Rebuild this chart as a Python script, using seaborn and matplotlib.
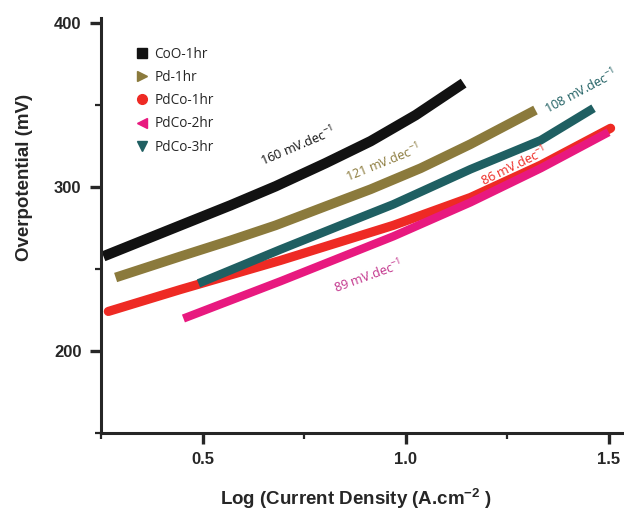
import pandas as pd
import matplotlib
matplotlib.use("Agg")
import matplotlib.pyplot as plt
from matplotlib.lines import Line2D
from matplotlib.ticker import MultipleLocator
import seaborn as sns

# values
series_names = ["CoO-1hr", "Pd-1hr", "PdCo-1hr", "PdCo-2hr", "PdCo-3hr"]

coo_x = [0.256, 0.446, 0.569, 0.680, 0.803, 0.914, 1.025, 1.143]
coo_y = [257.7, 276.6, 288.8, 300.4, 314.5, 327.9, 343.8, 363.3]

pd_x = [0.286, 0.446, 0.569, 0.680, 0.803, 0.914, 1.037, 1.160, 1.320]
pd_y = [244.8, 257.7, 267.4, 276.6, 288.2, 298.6, 311.4, 326.1, 346.9]

pdco1_x = [0.268, 0.446, 0.692, 0.970, 1.160, 1.333, 1.505]
pdco1_y = [224.1, 237.5, 255.2, 276.6, 293.6, 313.3, 335.8]

pdco2_x = [0.453, 0.692, 0.970, 1.160, 1.333, 1.500]
pdco2_y = [219.8, 242.5, 269.9, 290.6, 311.4, 333.4]

pdco3_x = [0.490, 0.692, 0.840, 0.970, 1.160, 1.333, 1.463]
pdco3_y = [241.2, 261.9, 276.6, 289.4, 310.8, 328.5, 348.0]

tafel_labels = ["160", "121", "86", "89", "108"]

colors = {"CoO-1hr": "#121212", "Pd-1hr": "#8b7a3c", "PdCo-1hr": "#ee2a24",
          "PdCo-2hr": "#e8197f", "PdCo-3hr": "#1f5f62"}
markers = {"CoO-1hr": "s", "Pd-1hr": ">", "PdCo-1hr": "o",
           "PdCo-2hr": "<", "PdCo-3hr": "v"}

frames = []
for name, xs, ys in zip(series_names,
                        [coo_x, pd_x, pdco1_x, pdco2_x, pdco3_x],
                        [coo_y, pd_y, pdco1_y, pdco2_y, pdco3_y]):
    frames.append(pd.DataFrame({"x": xs, "y": ys, "sample": name}))
df = pd.concat(frames, ignore_index=True)

sns.set_style("ticks")
plt.rcParams["font.family"] = ["Liberation Sans", "DejaVu Sans"]
plt.rcParams["mathtext.fontset"] = "custom"
plt.rcParams["mathtext.rm"] = "Open Sans"
plt.rcParams["mathtext.bf"] = "Liberation Sans:bold"

fig = plt.figure(figsize=(6.24, 5.15), dpi=100, facecolor="white")
ax = fig.add_axes([101 / 624, 82 / 515, 523 / 624, 415 / 515])

# draw order: red under pink and teal, like the reference
widths = {"CoO-1hr": 7.5, "Pd-1hr": 7.0, "PdCo-1hr": 6.6, "PdCo-2hr": 6.0, "PdCo-3hr": 6.2}
caps = {"CoO-1hr": "butt", "Pd-1hr": "butt", "PdCo-1hr": "round",
        "PdCo-2hr": "butt", "PdCo-3hr": "butt"}
for name in ["CoO-1hr", "Pd-1hr", "PdCo-1hr", "PdCo-3hr", "PdCo-2hr"]:
    sub = df[df["sample"] == name]
    sns.lineplot(data=sub, x="x", y="y", color=colors[name], lw=widths[name],
                 sort=False, legend=False, ax=ax, solid_capstyle=caps[name],
                 solid_joinstyle="round")

ax.set_xlim(0.25, 1.538)
ax.set_ylim(150, 403)
ax.xaxis.set_minor_locator(MultipleLocator(0.25))
ax.yaxis.set_minor_locator(MultipleLocator(50))
ax.set_xticks([0.5, 1.0, 1.5])
ax.set_xticklabels(["0.5", "1.0", "1.5"])
ax.set_yticks([200, 300, 400])

for s in ["top", "right"]:
    ax.spines[s].set_visible(False)
for s in ["left", "bottom"]:
    ax.spines[s].set_linewidth(2.2)
ax.tick_params(which="major", length=8, width=2.4, labelsize=12, pad=6)
ax.tick_params(which="minor", length=4, width=1.6)
for lab in ax.get_xticklabels() + ax.get_yticklabels():
    lab.set_fontweight("bold")

ax.set_xlabel(r"Log (Current Density (A.cm$^{\mathbf{-2}}$ )", fontsize=13.5,
              fontweight="bold")
ax.set_ylabel("Overpotential (mV)", fontsize=13.5, fontweight="bold")
ax.xaxis.set_label_coords(0.488, -0.128)
ax.yaxis.set_label_coords(-0.13, 0.617)

# slope labels
label_pos = {"160": (0.734, 325.0, 23, colors["CoO-1hr"]),
             "121": (0.943, 315.0, 22, colors["Pd-1hr"]),
             "86": (1.268, 313.0, 26, colors["PdCo-1hr"]),
             "89": (0.909, 245.5, 20, "#c2338b"),
             "108": (1.431, 358.5, 28, colors["PdCo-3hr"])}
for t in tafel_labels:
    x, y, rot, c = label_pos[t]
    ax.text(x, y, t + r" mV.dec$^{-1}$", color=c, fontsize=9.2, rotation=rot,
            ha="center", va="center", family="Open Sans", rotation_mode="anchor")

handles = [Line2D([], [], ls="none", marker=markers[n], color=colors[n],
                  markersize=7) for n in series_names]
ax.legend(handles, series_names, loc="upper left", bbox_to_anchor=(0.04, 0.96),
          frameon=False, handletextpad=0.3, labelspacing=0.6, handlelength=1.2,
          prop={"family": "Open Sans", "size": 9.8})

fig.savefig("out.png", dpi=100, facecolor="white")
